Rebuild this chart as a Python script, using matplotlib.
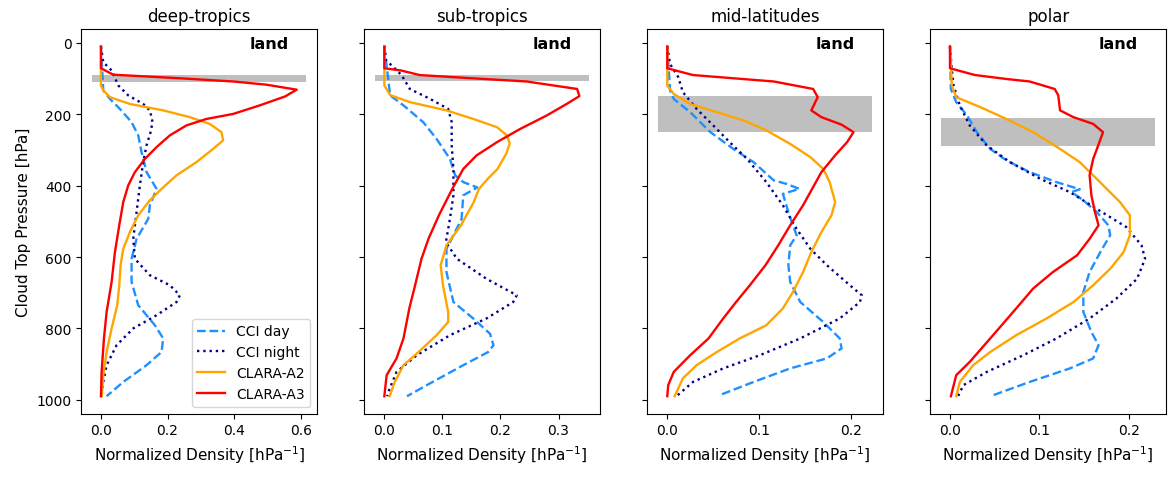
import matplotlib
matplotlib.use("Agg")
import matplotlib.pyplot as plt

# ---------------- data ----------------
titles = ["deep-tropics", "sub-tropics", "mid-latitudes", "polar"]
series_names = ["CCI day", "CCI night", "CLARA-A2", "CLARA-A3"]
tropopause_bands = [(89, 110), (89, 108), (150, 250), (210, 290)]

# deep-tropics
dt_day_p = [10, 133, 157, 185, 222, 259, 306, 362, 409, 455, 493, 549, 605, 670, 735, 791, 828, 866, 903, 950, 990]
dt_day_x = [0.0, 0.007, 0.027, 0.057, 0.092, 0.112, 0.122, 0.137, 0.167, 0.147, 0.142, 0.107, 0.092, 0.092, 0.112, 0.162, 0.187, 0.182, 0.137, 0.067, 0.017]
dt_night_p = [10, 54, 77, 119, 147, 171, 189, 222, 250, 287, 334, 399, 474, 549, 605, 651, 679, 707, 726, 763, 800, 847, 903, 959, 990]
dt_night_x = [0.0, 0.007, 0.032, 0.052, 0.082, 0.127, 0.147, 0.155, 0.149, 0.137, 0.127, 0.117, 0.107, 0.097, 0.102, 0.147, 0.207, 0.237, 0.227, 0.167, 0.097, 0.047, 0.017, 0.005, 0.002]
dt_a2_p = [10, 119, 133, 152, 171, 189, 208, 227, 250, 273, 297, 334, 371, 409, 441, 483, 530, 577, 623, 679, 735, 800, 866, 931, 990]
dt_a2_x = [0.0, 0.0, 0.007, 0.027, 0.087, 0.187, 0.267, 0.327, 0.362, 0.367, 0.337, 0.287, 0.227, 0.182, 0.147, 0.112, 0.087, 0.067, 0.059, 0.055, 0.049, 0.032, 0.017, 0.007, 0.002]
dt_a3_p = [10, 71, 89, 99, 108, 117, 131, 150, 175, 199, 213, 231, 259, 292, 325, 362, 399, 446, 511, 586, 670, 754, 828, 922, 990]
dt_a3_x = [0.0, 0.0, 0.037, 0.237, 0.397, 0.497, 0.588, 0.553, 0.477, 0.397, 0.317, 0.257, 0.207, 0.167, 0.132, 0.102, 0.082, 0.067, 0.055, 0.042, 0.032, 0.017, 0.009, 0.002, 0.0]

# sub-tropics
st_day_p = [10, 147, 175, 222, 269, 325, 371, 390, 405, 427, 493, 539, 577, 642, 726, 772, 815, 847, 866, 903, 959, 990]
st_day_x = [0.0, 0.010, 0.033, 0.067, 0.090, 0.113, 0.122, 0.136, 0.160, 0.136, 0.133, 0.119, 0.107, 0.107, 0.119, 0.153, 0.182, 0.188, 0.179, 0.136, 0.073, 0.039]
st_night_p = [10, 49, 68, 91, 129, 157, 185, 222, 287, 353, 427, 493, 558, 605, 661, 707, 726, 772, 819, 875, 922, 978, 990]
st_night_x = [0.0, 0.003, 0.016, 0.030, 0.044, 0.079, 0.110, 0.116, 0.116, 0.119, 0.119, 0.113, 0.106, 0.125, 0.176, 0.228, 0.222, 0.176, 0.113, 0.056, 0.021, 0.007, 0.005]
st_a2_p = [10, 119, 146, 166, 189, 213, 236, 259, 282, 310, 353, 381, 409, 446, 511, 567, 623, 679, 754, 782, 819, 866, 903, 950, 990]
st_a2_x = [0.0, 0.0, 0.010, 0.044, 0.107, 0.153, 0.194, 0.211, 0.216, 0.210, 0.195, 0.178, 0.163, 0.154, 0.132, 0.107, 0.097, 0.101, 0.110, 0.110, 0.090, 0.059, 0.033, 0.018, 0.009]
st_a3_p = [10, 71, 77, 90, 97, 108, 129, 149, 171, 203, 241, 278, 315, 353, 409, 483, 549, 605, 679, 744, 828, 884, 931, 990]
st_a3_x = [0.0, 0.0, 0.028, 0.061, 0.130, 0.245, 0.332, 0.336, 0.314, 0.280, 0.234, 0.194, 0.159, 0.136, 0.117, 0.094, 0.076, 0.064, 0.053, 0.043, 0.033, 0.021, 0.004, 0.0]

# mid-latitudes
ml_day_p = [10, 133, 157, 194, 250, 297, 334, 385, 395, 409, 423, 474, 511, 539, 567, 623, 670, 726, 782, 828, 856, 884, 912, 950, 987]
ml_day_x = [0.0, 0.003, 0.007, 0.025, 0.047, 0.072, 0.094, 0.116, 0.130, 0.144, 0.126, 0.132, 0.137, 0.141, 0.134, 0.132, 0.134, 0.145, 0.170, 0.188, 0.190, 0.174, 0.134, 0.094, 0.057]
ml_night_p = [10, 59, 96, 138, 185, 231, 278, 325, 390, 455, 521, 577, 623, 679, 707, 726, 772, 828, 875, 912, 950, 990]
ml_night_x = [0.0, 0.003, 0.012, 0.017, 0.032, 0.050, 0.068, 0.087, 0.108, 0.126, 0.141, 0.156, 0.174, 0.199, 0.212, 0.210, 0.188, 0.145, 0.101, 0.061, 0.028, 0.010]
ml_a2_p = [10, 119, 143, 171, 194, 217, 245, 283, 320, 353, 390, 446, 483, 530, 586, 642, 698, 744, 791, 828, 866, 903, 940, 990]
ml_a2_x = [0.0, 0.0, 0.007, 0.025, 0.054, 0.083, 0.108, 0.134, 0.156, 0.170, 0.177, 0.183, 0.179, 0.168, 0.157, 0.148, 0.137, 0.126, 0.108, 0.079, 0.054, 0.032, 0.017, 0.008]
ml_a3_p = [10, 71, 90, 99, 108, 129, 152, 189, 208, 229, 250, 278, 315, 362, 455, 511, 567, 623, 679, 726, 772, 828, 875, 922, 959, 990]
ml_a3_x = [0.0, 0.0, 0.028, 0.072, 0.116, 0.159, 0.164, 0.157, 0.168, 0.190, 0.203, 0.196, 0.183, 0.168, 0.148, 0.134, 0.121, 0.107, 0.090, 0.075, 0.061, 0.045, 0.025, 0.007, 0.001, 0.0]

# polar
po_day_p = [10, 129, 166, 203, 250, 297, 329, 362, 390, 410, 418, 441, 474, 511, 539, 586, 642, 698, 754, 810, 847, 884, 912, 950, 990]
po_day_x = [0.0, 0.001, 0.007, 0.019, 0.030, 0.045, 0.063, 0.089, 0.119, 0.145, 0.136, 0.149, 0.164, 0.177, 0.179, 0.168, 0.156, 0.149, 0.149, 0.158, 0.166, 0.160, 0.134, 0.089, 0.045]
po_night_p = [10, 73, 119, 175, 231, 287, 334, 381, 418, 465, 516, 567, 605, 661, 716, 772, 828, 875, 922, 959, 990]
po_night_x = [0.0, 0.002, 0.004, 0.011, 0.022, 0.041, 0.067, 0.101, 0.134, 0.164, 0.197, 0.214, 0.218, 0.209, 0.186, 0.156, 0.119, 0.082, 0.041, 0.015, 0.009]
po_a2_p = [10, 54, 119, 152, 180, 213, 250, 297, 334, 381, 446, 483, 539, 586, 633, 679, 726, 772, 819, 866, 903, 950, 990]
po_a2_x = [0.0, 0.001, 0.002, 0.007, 0.034, 0.063, 0.093, 0.123, 0.145, 0.164, 0.190, 0.201, 0.201, 0.194, 0.179, 0.160, 0.138, 0.108, 0.074, 0.045, 0.026, 0.011, 0.007]
po_a3_p = [10, 71, 90, 101, 108, 129, 147, 189, 208, 227, 250, 278, 325, 371, 427, 474, 511, 549, 595, 642, 688, 744, 828, 894, 931, 990]
po_a3_x = [0.0, 0.0, 0.028, 0.063, 0.089, 0.117, 0.121, 0.123, 0.138, 0.160, 0.171, 0.167, 0.160, 0.156, 0.158, 0.162, 0.166, 0.156, 0.142, 0.115, 0.093, 0.074, 0.045, 0.022, 0.007, 0.001]

x_limits = [(-0.059, 0.650), (-0.0345, 0.372), (-0.0218, 0.2355), (-0.022, 0.2417)]
x_ticks = [[0.0, 0.2, 0.4, 0.6], [0.0, 0.1, 0.2, 0.3], [0.0, 0.1, 0.2], [0.0, 0.1, 0.2]]
y_ticks = [0, 200, 400, 600, 800, 1000]

panels = [
    [(dt_day_p, dt_day_x), (dt_night_p, dt_night_x), (dt_a2_p, dt_a2_x), (dt_a3_p, dt_a3_x)],
    [(st_day_p, st_day_x), (st_night_p, st_night_x), (st_a2_p, st_a2_x), (st_a3_p, st_a3_x)],
    [(ml_day_p, ml_day_x), (ml_night_p, ml_night_x), (ml_a2_p, ml_a2_x), (ml_a3_p, ml_a3_x)],
    [(po_day_p, po_day_x), (po_night_p, po_night_x), (po_a2_p, po_a2_x), (po_a3_p, po_a3_x)],
]

styles = [
    dict(color="dodgerblue", linestyle="--"),
    dict(color="darkblue", linestyle=":"),
    dict(color="orange", linestyle="-"),
    dict(color="red", linestyle="-"),
]

# ---------------- figure ----------------
fig, axes = plt.subplots(1, 4, figsize=(11.75, 4.81), dpi=100, sharey=True)
fig.subplots_adjust(left=0.0692, right=0.9926, top=0.9376, bottom=0.1378, wspace=0.199)

for i, ax in enumerate(axes):
    for (p, x), name, st in zip(panels[i], series_names, styles):
        ax.plot(x, p, label=name, linewidth=1.7, zorder=3, **st)
    lo, hi = tropopause_bands[i]
    ax.axhspan(lo, hi, xmin=0.045, xmax=0.953, color="gray", alpha=0.5, linewidth=0, zorder=1)
    ax.set_xlim(*x_limits[i])
    ax.set_xticks(x_ticks[i])
    ax.set_title(titles[i], fontsize=12)
    ax.set_xlabel("Normalized Density [hPa$^{-1}$]", fontsize=11)
    ax.text(0.795, 0.982, "land", transform=ax.transAxes, ha="center", va="top",
            fontsize=11.5, fontweight="heavy")

axes[0].set_ylim(1039, -39)
axes[0].set_yticks(y_ticks)
axes[0].set_ylabel("Cloud Top Pressure [hPa]", fontsize=11)
axes[0].legend(loc="lower right", fontsize=10)

fig.savefig("out.png", dpi=100)
